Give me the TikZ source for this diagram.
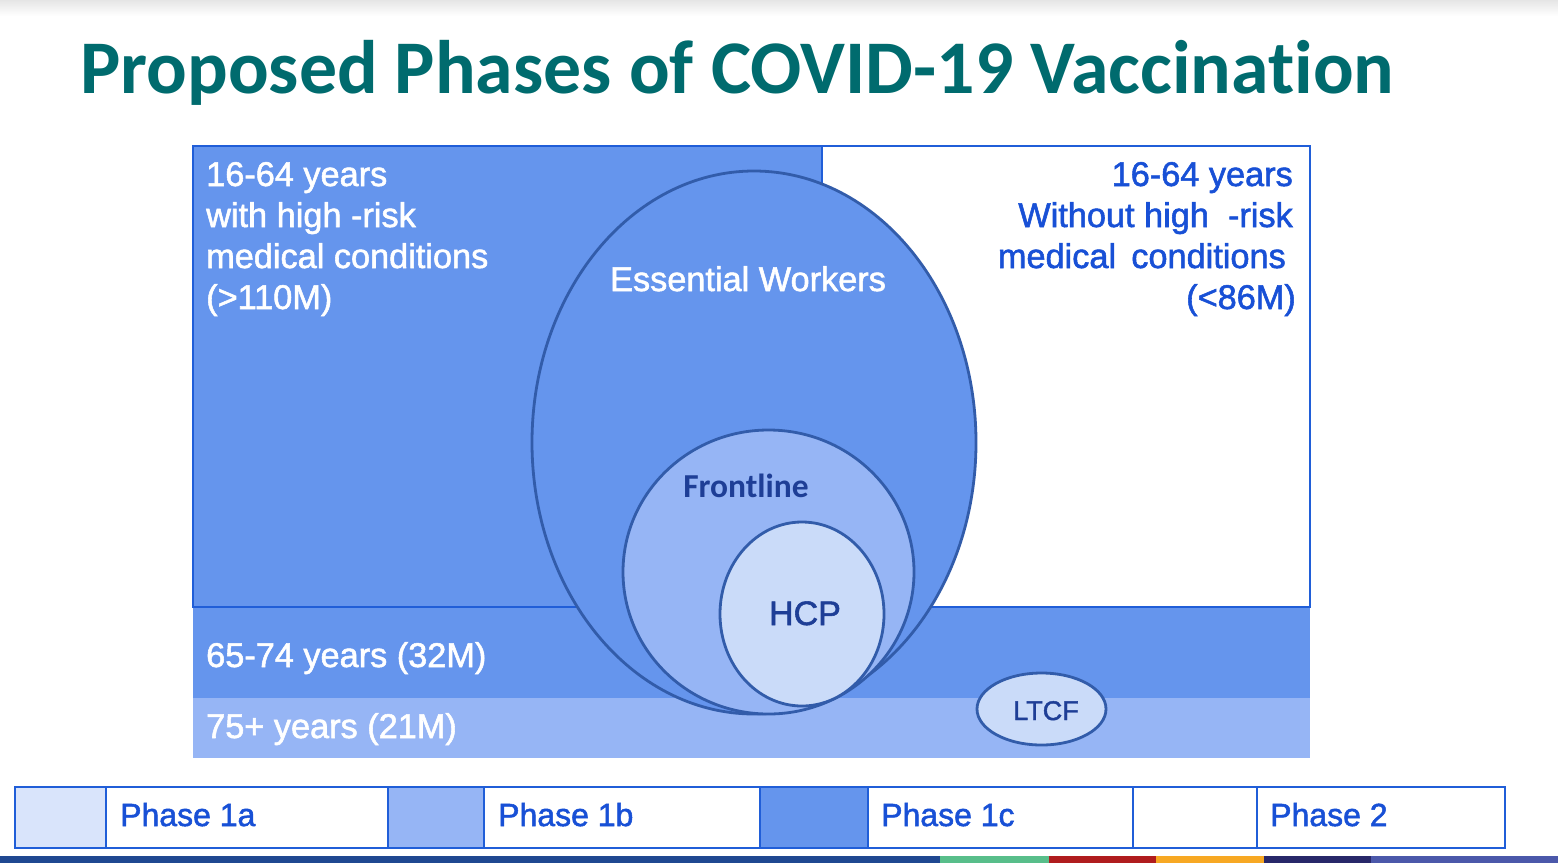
\documentclass[tikz,border=0pt]{standalone}
\usepackage{fontspec}
\setmainfont{Liberation Sans}
\newfontfamily\heavy[FakeBold=1.6]{Liberation Sans}
\newfontfamily\calib[Ligatures=NoCommon]{Carlito}
\usetikzlibrary{shapes.geometric}
\definecolor{cfblue}{RGB}{101,149,237}
\definecolor{ltblue}{RGB}{150,181,245}
\definecolor{pale}{RGB}{202,219,249}
\definecolor{palest}{RGB}{217,228,251}
\definecolor{edge}{RGB}{50,92,170}
\definecolor{rim}{RGB}{32,94,216}
\definecolor{txtblue}{RGB}{24,80,214}
\definecolor{navytxt}{RGB}{30,62,150}
\definecolor{titleteal}{RGB}{0,107,110}
\definecolor{barblue}{RGB}{31,72,145}
\definecolor{bargreen}{RGB}{88,190,138}
\definecolor{barred}{RGB}{176,28,30}
\definecolor{barorange}{RGB}{247,168,35}
\definecolor{barnavy}{RGB}{40,40,105}
\definecolor{barpurple}{RGB}{75,88,170}
\tikzset{
  wtext/.style={text=white, inner sep=0, font=\heavy\fontsize{34.3}{41}\selectfont},
  btext/.style={text=txtblue, inner sep=0, font=\heavy\fontsize{34.3}{41}\selectfont},
  legtext/.style={text=txtblue, inner sep=0, anchor=base west, font=\heavy\fontsize{32}{38}\selectfont},
  venn/.style={ellipse, draw=edge, line width=2.8pt, inner sep=0},
  cell/.style={draw=rim, line width=1.5pt},
}
\begin{document}
\begin{tikzpicture}[x=1pt,y=-1pt]
\useasboundingbox (0,0) rectangle (1558,863);
\fill[white] (0,0) rectangle (1558,863);
\shade[top color=black!10, bottom color=white] (0,0) rectangle (1558,16);
% title
\node[anchor=base west, inner sep=0, text=titleteal, font=\calib\bfseries\fontsize{75.8}{90}\selectfont] (title) at (80,93) {Proposed Phases of COVID-19 Vaccination};
% regions
\fill[cfblue] (193,146) rectangle (822,607);
\fill[cfblue] (193,607) rectangle (1310,698);
\fill[ltblue] (193,698) rectangle (1310,758);
\draw[cell] (193,146) rectangle (1310,607);
\draw[cell] (822,146) -- (822,607);
% ellipses
\node[venn, fill=cfblue, minimum width=444pt, minimum height=543pt] (ess) at (754,442.5) {};
\node[venn, fill=ltblue, minimum width=291pt, minimum height=284pt] (front) at (768.5,572) {};
\node[venn, fill=pale, minimum width=164pt, minimum height=184pt] (hcp) at (802,614) {};
\node[venn, fill=pale, minimum width=129pt, minimum height=72pt] (ltcf) at (1041.5,709) {};
% texts left
\node[wtext, anchor=base west] (l1) at (206,186) {16-64 years};
\node[wtext, anchor=base west] (l2) at (206,227) {with high -risk};
\node[wtext, anchor=base west] (l3) at (206,268) {medical conditions};
\node[wtext, anchor=base west] (l4) at (206,309) {(>110M)};
% texts right
\node[btext, anchor=base east] (r1) at (1293,186) {16-64 years};
\node[btext, anchor=base east] (r2) at (1293,227) {Without high\ \ -risk};
\node[btext, anchor=base east] (r3) at (1286,268) {medical\ \,conditions};
\node[btext, anchor=base east] (r4) at (1296,309) {(<86M)};
% ellipse labels
\node[wtext, anchor=base] (esst) at (748,291) {Essential Workers};
\node[inner sep=0, anchor=base, text=navytxt, font=\calib\bfseries\fontsize{33.5}{40}\selectfont] (frontt) at (746,497) {Frontline};
\node[inner sep=0, anchor=base, text=navytxt, font=\heavy\fontsize{34}{40}\selectfont] (hcpt) at (805,625) {HCP};
\node[inner sep=0, anchor=base, text=navytxt, font=\heavy\fontsize{27}{32}\selectfont] (ltcft) at (1046,720) {LTCF};
% age bands
\node[wtext, anchor=base west] (a1) at (206,667) {65-74 years (32M)};
\node[wtext, anchor=base west] (a2) at (206,738) {75+ years (21M)};
% legend
\fill[palest] (15,787) rectangle (106,848);
\fill[ltblue] (388,787) rectangle (484,848);
\fill[cfblue] (760,787) rectangle (868,848);
\draw[cell] (15,787) rectangle (1505,848);
\foreach \xx in {106,388,484,760,868,1133,1257} \draw[cell] (\xx,787) -- (\xx,848);
\node[legtext] (p1a) at (120,826) {Phase 1a};
\node[legtext] (p1b) at (498,826) {Phase 1b};
\node[legtext] (p1c) at (881,826) {Phase 1c};
\node[legtext] (p2) at (1270,826) {Phase 2};
% bottom bar
\fill[barblue] (0,856) rectangle (940,863);
\fill[bargreen] (940,856) rectangle (1049,863);
\fill[barred] (1049,856) rectangle (1156,863);
\fill[barorange] (1156,856) rectangle (1264,863);
\fill[barnavy] (1264,856) rectangle (1371,863);
\fill[barpurple] (1371,856) rectangle (1558,863);
\end{tikzpicture}
\end{document}
